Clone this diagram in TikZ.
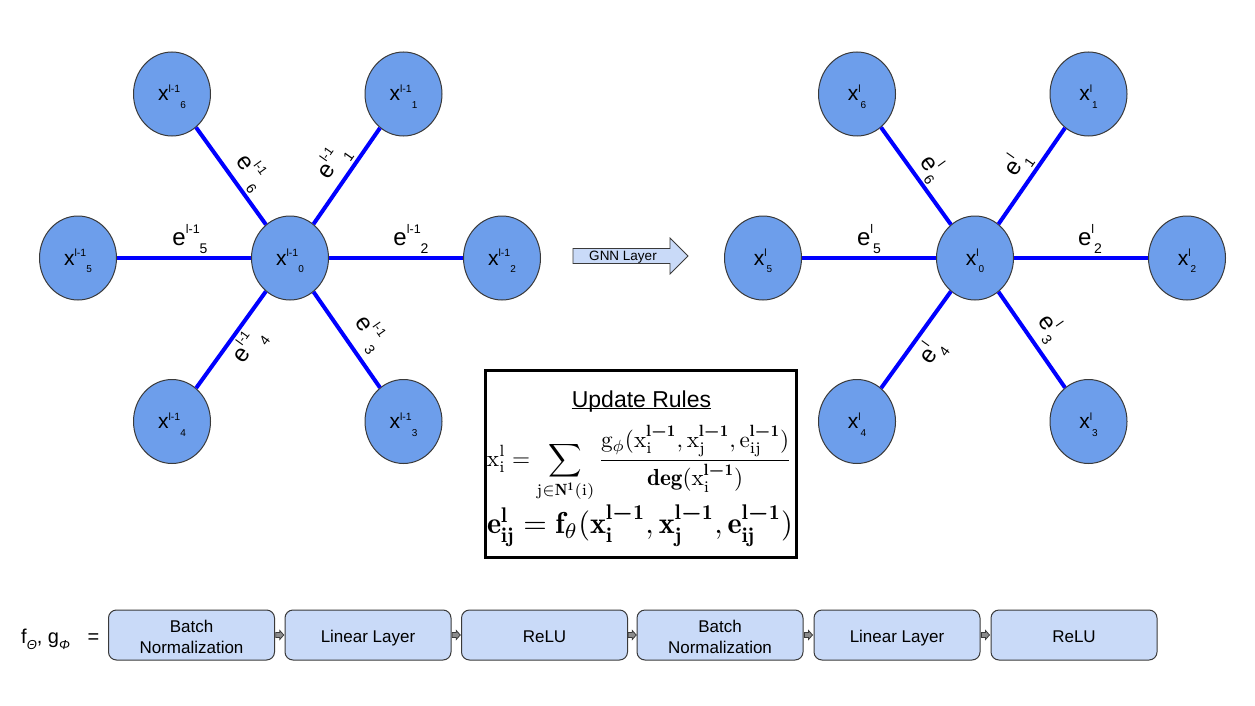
\documentclass[tikz,border=0pt]{standalone}
\usepackage{amsmath,amssymb}
\usepackage{graphicx}
\usepackage{fontspec}
\newfontfamily\arial{Liberation Sans}
\usetikzlibrary{shapes.geometric,calc}
\definecolor{nodeblue}{HTML}{6D9EEB}
\definecolor{lightblue}{HTML}{C9DAF8}
\definecolor{edgeblue}{HTML}{0000FF}
\definecolor{darkline}{HTML}{3A3A3A}
\definecolor{arrgray}{HTML}{8C8C8C}
\newcommand\xlab[2]{{\fontsize{21}{21}\selectfont x}\raisebox{8.3pt}{\fontsize{10.5}{10.5}\selectfont #1}\raisebox{-7.7pt}{\fontsize{10}{10}\selectfont #2}}
\newcommand\elab[2]{{\fontsize{24}{24}\selectfont e}\raisebox{12pt}{\fontsize{12.5}{12.5}\selectfont #1}\raisebox{-8pt}{\fontsize{14}{14}\selectfont #2}}
\newcommand\lmo{\mathbf{l}\boldsymbol{-}\mathbf{1}}
\begin{document}
\begin{tikzpicture}[x=1pt,y=-1pt,
  gnode/.style={ellipse, draw=darkline, line width=1pt, fill=nodeblue, minimum width=77pt, minimum height=84pt, inner sep=0pt, text height=22pt, text depth=8pt, font=\arial},
  edgeline/.style={draw=edgeblue, line width=4pt},
  elabel/.style={inner sep=0pt, font=\arial},
  blockbox/.style={draw=darkline, line width=1pt, fill=lightblue, rounded corners=8pt, minimum width=166pt, minimum height=50pt, inner sep=0pt, align=center, font=\arial\fontsize{17}{21}\selectfont},
  onebox/.style={blockbox, text height=16pt, text depth=2pt},
  twobox/.style={blockbox, text height=37pt, text depth=0pt},
  smallarr/.style={draw=darkline, line width=0.8pt, fill=arrgray},
]
\useasboundingbox (0,0) rectangle (1255,706);

% left graph
\node[gnode] (L0) at (290,258) {\xlab{l-1}{0}};
\node[gnode] (L1) at (403.5,94) {\xlab{l-1}{1}};
\node[gnode] (L2) at (502,258) {\xlab{l-1}{2}};
\node[gnode] (L3) at (403.5,421.5) {\xlab{l-1}{3}};
\node[gnode] (L4) at (172,421.5) {\xlab{l-1}{4}};
\node[gnode] (L5) at (78,258) {\xlab{l-1}{5}};
\node[gnode] (L6) at (172,94) {\xlab{l-1}{6}};
\foreach \i in {1,...,6} \draw[edgeline] (L0) -- (L\i);

\node[elabel, rotate=55] (eL1) at (333,162) {\elab{l-1}{1}};
\node[elabel] (eL2) at (411,239) {\elab{l-1}{2}};
\node[elabel, rotate=-55] (eL3) at (370,333) {\elab{l-1}{3}};
\node[elabel, rotate=54] (eL4) at (249,346) {\elab{l-1}{4}};
\node[elabel] (eL5) at (190,239) {\elab{l-1}{5}};
\node[elabel, rotate=-54] (eL6) at (251,172) {\elab{l-1}{6}};

% right graph
\node[gnode] (R0) at (975,258) {\xlab{l}{0}};
\node[gnode] (R1) at (1088.5,94) {\xlab{l}{1}};
\node[gnode] (R2) at (1187,258) {\xlab{l}{2}};
\node[gnode] (R3) at (1088.5,421.5) {\xlab{l}{3}};
\node[gnode] (R4) at (857,421.5) {\xlab{l}{4}};
\node[gnode] (R5) at (763,258) {\xlab{l}{5}};
\node[gnode] (R6) at (857,94) {\xlab{l}{6}};
\foreach \i in {1,...,6} \draw[edgeline] (R0) -- (R\i);

\node[elabel, rotate=55] (eR1) at (1017,164) {\elab{l}{1}};
\node[elabel] (eR2) at (1090,239) {\elab{l}{2}};
\node[elabel, rotate=-55] (eR3) at (1050,328) {\elab{l}{3}};
\node[elabel, rotate=54] (eR4) at (932,352) {\elab{l}{4}};
\node[elabel] (eR5) at (869,239) {\elab{l}{5}};
\node[elabel, rotate=-54] (eR6) at (932,168) {\elab{l}{6}};

% GNN layer arrow
\draw[draw=darkline, line width=0.8pt, fill=lightblue] (573,248.5) -- (670,248.5) -- (670,238) -- (688,256) -- (670,274) -- (670,263.5) -- (573,263.5) -- cycle;
\node[font=\arial\fontsize{13.5}{13.5}\selectfont, inner sep=0pt] (gnn) at (623,257) {GNN Layer};

% update rules
\node[draw=black, line width=3pt, minimum width=311pt, minimum height=187pt, inner sep=0pt] (rules) at (640.5,463.5) {};
\node[font=\arial\fontsize{23}{23}\selectfont, inner sep=0pt, anchor=base] (title) at (641.5,407) {Update Rules};
\draw[line width=1pt] ([yshift=-1.5pt]title.base west) -- ([yshift=-1.5pt]title.base east);
\node[inner sep=0pt] (eq1) at (639.5,463.5) {\resizebox{305pt}{!}{$\displaystyle \mathrm{x}^{\mathrm{l}}_{\mathrm{i}} = \sum_{\mathrm{j}\in\mathbf{N}^{\mathbf{1}}(\mathrm{i})} \frac{\mathrm{g}_{\phi}(\mathrm{x}^{\lmo}_{\mathrm{i}},\mathrm{x}^{\lmo}_{\mathrm{j}},\mathrm{e}^{\lmo}_{\mathrm{ij}})}{\mathbf{deg}(\mathrm{x}^{\lmo}_{\mathrm{i}})}$}};
\node[inner sep=0pt] (eq2) at (640,526) {\resizebox{306pt}{!}{$\mathbf{e}^{\mathbf{l}}_{\mathbf{ij}} = \mathbf{f}_{\theta}(\mathbf{x}^{\lmo}_{\mathbf{i}},\mathbf{x}^{\lmo}_{\mathbf{j}},\mathbf{e}^{\lmo}_{\mathbf{ij}})$}};

% bottom row
\node[font=\arial\fontsize{20}{20}\selectfont, inner sep=0pt, anchor=base west] (fg) at (21,643) {f\raisebox{-6.5pt}{\fontsize{13}{13}\selectfont\itshape Θ}, g\raisebox{-6.5pt}{\fontsize{13}{13}\selectfont\itshape Φ}};
\node[font=\arial\fontsize{20}{20}\selectfont, inner sep=0pt, anchor=base] (eqsign) at (93.5,643) {=};
\node[twobox] (b1) at (191.5,635) {Batch\\Normalization};
\node[onebox] (b2) at (368,635) {Linear Layer};
\node[onebox] (b3) at (544.5,635) {ReLU};
\node[twobox] (b4) at (720,635) {Batch\\Normalization};
\node[onebox] (b5) at (897,635) {Linear Layer};
\node[onebox] (b6) at (1074,635) {ReLU};
\foreach \a/\b in {b1/b2,b2/b3,b3/b4,b4/b5,b5/b6}
  \draw[smallarr] ($(\a.east)!0.5!(\b.west)+(-4,2.5)$) -- ++(4,0) -- ++(0,2) -- ++(4,-4.5) -- ++(-4,-4.5) -- ++(0,2) -- ++(-4,0) -- cycle;
\end{tikzpicture}
\end{document}
